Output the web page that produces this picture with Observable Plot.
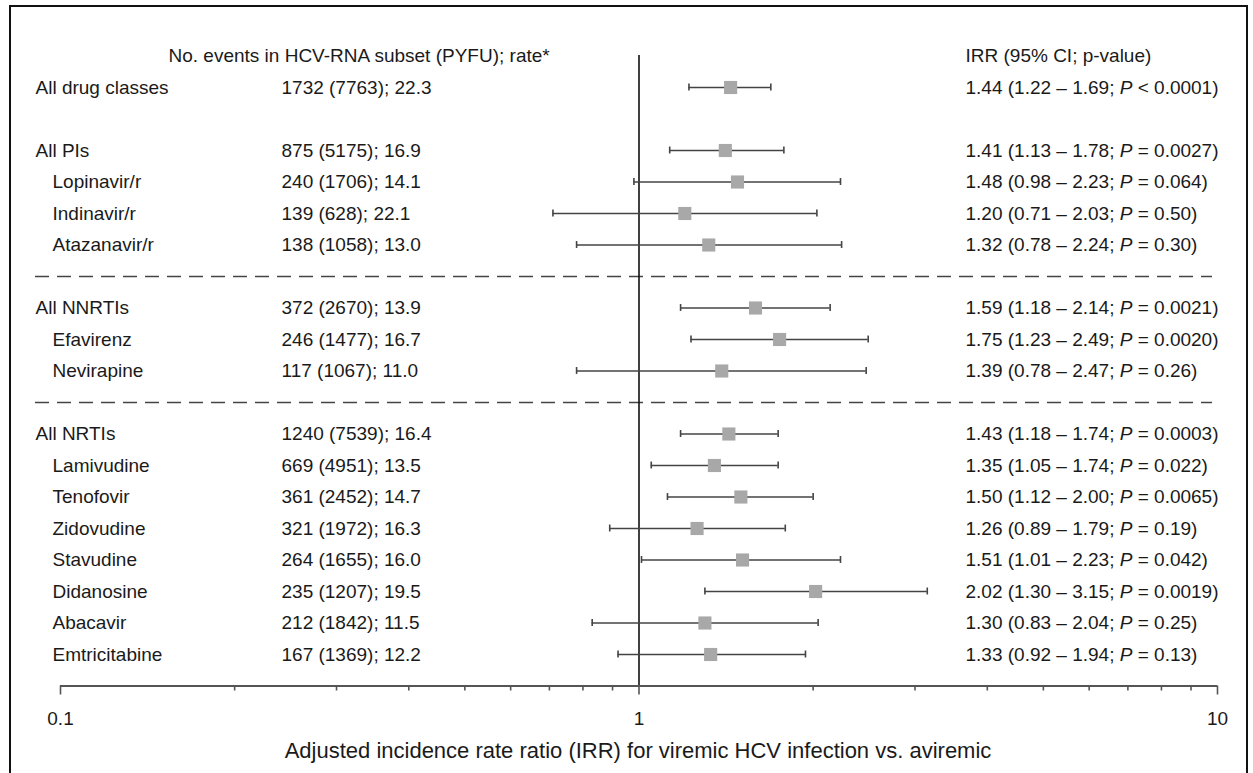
<!DOCTYPE html>
<html><head><meta charset="utf-8">
<script src="https://cdn.jsdelivr.net/npm/d3@7"></script>
<script src="https://cdn.jsdelivr.net/npm/@observablehq/plot@0.6"></script>
<style>
body{margin:0;background:#fff;}
#wrap{position:relative;width:1253px;height:773px;overflow:hidden;background:#fff;}
#border{position:absolute;left:9px;top:5px;width:1239px;height:820px;border:2px solid #111;box-sizing:border-box;pointer-events:none;}
#chart{position:absolute;left:0;top:0;}
</style></head><body>
<div id="wrap"><div id="chart"></div><div id="border"></div></div>
<script>
const drugs = ["All drug classes","All PIs","Lopinavir/r","Indinavir/r","Atazanavir/r",
  "All NNRTIs","Efavirenz","Nevirapine",
  "All NRTIs","Lamivudine","Tenofovir","Zidovudine","Stavudine","Didanosine","Abacavir","Emtricitabine"];
const level = [0,0,1,1,1,0,1,1,0,1,1,1,1,1,1,1];
const section = [0,1,1,1,1,2,2,2,3,3,3,3,3,3,3,3];
const events = ["1732 (7763); 22.3","875 (5175); 16.9","240 (1706); 14.1","139 (628); 22.1","138 (1058); 13.0",
  "372 (2670); 13.9","246 (1477); 16.7","117 (1067); 11.0",
  "1240 (7539); 16.4","669 (4951); 13.5","361 (2452); 14.7","321 (1972); 16.3","264 (1655); 16.0","235 (1207); 19.5","212 (1842); 11.5","167 (1369); 12.2"];
const irr    = [1.44,1.41,1.48,1.20,1.32,1.59,1.75,1.39,1.43,1.35,1.50,1.26,1.51,2.02,1.30,1.33];
const ciLow  = [1.22,1.13,0.98,0.71,0.78,1.18,1.23,0.78,1.18,1.05,1.12,0.89,1.01,1.30,0.83,0.92];
const ciHigh = [1.69,1.78,2.23,2.03,2.24,2.14,2.49,2.47,1.74,1.74,2.00,1.79,2.23,3.15,2.04,1.94];
const pValues = ["< 0.0001","= 0.0027","= 0.064","= 0.50","= 0.30","= 0.0021","= 0.0020","= 0.26",
  "= 0.0003","= 0.022","= 0.0065","= 0.19","= 0.042","= 0.0019","= 0.25","= 0.13"];
const majorTicks = [0.1, 1, 10];
const minorTicks = [0.2,0.3,0.4,0.5,0.6,0.7,0.8,0.9,2,3,4,5,6,7,8,9];
const headerLeft = "No. events in HCV-RNA subset (PYFU); rate*";
const headerRight = "IRR (95% CI; p-value)";
const axisTitle = "Adjusted incidence rate ratio (IRR) for viremic HCV infection vs. aviremic";

// row layout: one blank/separator row between sections
const rows = [];
const separators = [];
let pos = 0;
drugs.forEach((d, i) => {
  if (i > 0) {
    pos += 1;
    if (section[i] !== section[i-1]) {
      if (section[i-1] !== 0) separators.push(pos);
      pos += 1;
    }
  }
  rows.push({drug: d, level: level[i], pos, events: events[i], irr: irr[i], lo: ciLow[i], hi: ciHigh[i],
    label: `${irr[i].toFixed(2)} (${ciLow[i].toFixed(2)} \u2013 ${ciHigh[i].toFixed(2)}; P ${pValues[i]})`});
});
const axisPos = pos + 1;
const fs = 19;
const step = 31.5, y0 = 55.5;

const chart = Plot.plot({
  width: 1253, height: 773,
  marginLeft: 35, marginRight: 41, marginTop: 55, marginBottom: 773 - (y0 + (axisPos + 1) * step),
  x: {type: "log", domain: [0.1, 10], range: [60, 1217]},
  y: {domain: [-1, axisPos], range: [y0, y0 + (axisPos + 1) * step], axis: null},
  style: {fontFamily: "'Liberation Sans', Arial, sans-serif", fontSize: fs + "px", color: "#1a1a1a", background: "transparent"},
  marks: [
    Plot.ruleY(separators, {stroke: "#444", strokeWidth: 1.3, strokeDasharray: "14,8"}),
    Plot.ruleX([1], {stroke: "#111", strokeWidth: 1.6}),
    Plot.ruleY([axisPos], {x1: majorTicks[0], x2: majorTicks[majorTicks.length-1], stroke: "#555", strokeWidth: 2}),
    Plot.axisX({ticks: majorTicks, tickSize: 9, tickPadding: 16, tickFormat: d => String(d), label: null, stroke: "#555", strokeWidth: 1.6, fontSize: fs, fill: "#1a1a1a"}),
    Plot.axisX({ticks: minorTicks, tickSize: 5, tickFormat: () => "", label: null, stroke: "#555", strokeWidth: 1.6}),
    Plot.text([axisTitle], {frameAnchor: "bottom", dy: 72, dx: 14, fontSize: 22, fill: "#1a1a1a"}),
    Plot.ruleY(rows, {y: "pos", x1: "lo", x2: "hi", stroke: "#444", strokeWidth: 1.4}),
    Plot.ruleX(rows, {x: "lo", y1: d => d.pos - 0.11, y2: d => d.pos + 0.11, stroke: "#444", strokeWidth: 1.6}),
    Plot.ruleX(rows, {x: "hi", y1: d => d.pos - 0.11, y2: d => d.pos + 0.11, stroke: "#444", strokeWidth: 1.6}),
    Plot.dot(rows, {x: "irr", y: "pos", symbol: "square", r: 7.4, fill: "#a8a8a8", stroke: "none"}),
    Plot.text([headerLeft], {y: () => -1, frameAnchor: "left", textAnchor: "start", dx: 133, fill: "#1a1a1a"}),
    Plot.text([headerRight], {y: () => -1, frameAnchor: "left", textAnchor: "start", dx: 930, fill: "#1a1a1a"}),
    Plot.text(rows.filter(d => d.level === 0), {y: "pos", text: "drug", frameAnchor: "left", textAnchor: "start", dx: 0, fill: "#1a1a1a"}),
    Plot.text(rows.filter(d => d.level === 1), {y: "pos", text: "drug", frameAnchor: "left", textAnchor: "start", dx: 17, fill: "#1a1a1a"}),
    Plot.text(rows, {y: "pos", text: "events", frameAnchor: "left", textAnchor: "start", dx: 246, fill: "#1a1a1a"}),
    Plot.text(rows, {y: "pos", text: "label", frameAnchor: "left", textAnchor: "start", dx: 930, fill: "#1a1a1a", className: "irrtext"})
  ]
});
document.getElementById("chart").appendChild(chart);

// italicize the "P" in the IRR column
chart.querySelectorAll("g.irrtext text").forEach(t => {
  const s = t.textContent;
  const k = s.indexOf("P ");
  if (k < 0) return;
  t.textContent = "";
  const ns = "http://www.w3.org/2000/svg";
  const a = document.createElementNS(ns, "tspan"); a.textContent = s.slice(0, k);
  const b = document.createElementNS(ns, "tspan"); b.textContent = "P"; b.setAttribute("font-style", "italic");
  const c = document.createElementNS(ns, "tspan"); c.textContent = s.slice(k + 1);
  t.append(a, b, c);
});
</script>
</body></html>
